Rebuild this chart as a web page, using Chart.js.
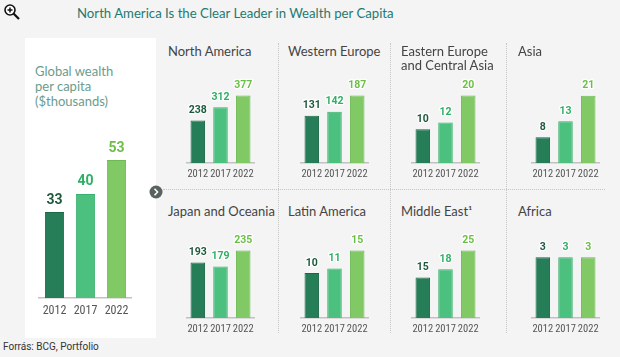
<!DOCTYPE html>
<html>
<head>
<meta charset="utf-8">
<script src="https://cdn.jsdelivr.net/npm/chart.js@4/dist/chart.umd.min.js"></script>
<style>
  html, body { margin:0; padding:0; }
  body { width:620px; height:357px; background:#f4f4f4; position:relative; overflow:hidden; font-family: Lato, "Open Sans", sans-serif; }
  .abs { position:absolute; }
  .title { left:77px; top:4px; font-size:13.2px; line-height:18px; color:#1f7a70; white-space:nowrap; }
  .panelTitle { font-size:13px; line-height:14px; color:#444; white-space:nowrap; }
  .white { left:25px; top:38px; width:131px; height:300px; background:#fff; }
  .gtitle { left:35px; top:64px; font-size:13px; line-height:15px; color:#6a9c8e; }
  .vdot { width:0; border-left:1px dotted #c6c6c6; }
  .hdot { height:0; border-top:1px dotted #c6c6c6; }
  .foot { left:3px; top:340px; font-size:10px; line-height:14px; color:#333; font-family: Roboto, "Liberation Sans", sans-serif; }
  canvas { position:absolute; }
</style>
</head>
<body>
<script>
// ---------- data ----------
const years = ['2012', '2017', '2022'];
const chartTitle = 'North America Is the Clear Leader in Wealth per Capita';
const globalLabel = ['Global wealth', 'per capita', '($thousands)'];
const globalValues = [33, 40, 53];
const regionNames = ['North America', 'Western Europe', 'Eastern Europe\nand Central Asia', 'Asia',
                     'Japan and Oceania', 'Latin America', 'Middle East¹', 'Africa'];
const northAmerica   = [238, 312, 377];
const westernEurope  = [131, 142, 187];
const easternEurope  = [10, 12, 20];
const asia           = [8, 13, 21];
const japanOceania   = [193, 179, 235];
const latinAmerica   = [10, 11, 15];
const middleEast     = [15, 18, 25];
const africa         = [3, 3, 3];
const regionValues = [northAmerica, westernEurope, easternEurope, asia,
                      japanOceania, latinAmerica, middleEast, africa];
// per-panel value axis maxima (each panel has its own scale)
const regionAxisMax = [520, 258, 27.6, 29, 324, 20.7, 34.4, 4.6];
const globalAxisMax = 60.7;
const sourceNote = 'Forrás: BCG, Portfolio';
</script>

<div class="abs" style="left:3px;top:3px;">
  <svg width="18" height="18" viewBox="0 0 18 18">
    <circle cx="7" cy="7" r="5" fill="#fff" stroke="#111" stroke-width="1.6"/>
    <line x1="4.5" y1="7" x2="9.5" y2="7" stroke="#111" stroke-width="1.5"/>
    <line x1="7" y1="4.5" x2="7" y2="9.5" stroke="#111" stroke-width="1.5"/>
    <line x1="10.5" y1="10.5" x2="16" y2="16" stroke="#111" stroke-width="2.2"/>
  </svg>
</div>
<div class="abs title" id="title"></div>
<div class="abs white"></div>
<div class="abs gtitle" id="gtitle"></div>

<div class="abs vdot" style="left:278px;top:43px;height:290px;"></div>
<div class="abs vdot" style="left:390px;top:43px;height:290px;"></div>
<div class="abs vdot" style="left:506px;top:43px;height:290px;"></div>
<div class="abs hdot" style="left:163px;top:189px;width:442px;"></div>

<div class="abs" style="left:149px;top:183px;">
  <svg width="14" height="14" viewBox="0 0 14 14">
    <circle cx="7" cy="7" r="6.5" fill="#5a6161"/>
    <polyline points="5.5,3.8 8.6,7 5.5,10.2" fill="none" stroke="#fff" stroke-width="1.5"/>
  </svg>
</div>

<div class="abs foot" id="foot"></div>

<script>
document.getElementById('title').textContent = chartTitle;
document.getElementById('gtitle').innerHTML = globalLabel.join('<br>');
document.getElementById('foot').textContent = sourceNote;

const fills   = ['#267e59', '#4cc17f', '#80c964'];
const borders = ['#1a6844', '#3bb06e', '#6db955'];
const labelColors = ['#1c5a3c', '#2fb064', '#6cbf45'];

const valueLabels = {
  id: 'valueLabels',
  afterDatasetsDraw(chart, args, opts) {
    const ctx = chart.ctx;
    const meta = chart.getDatasetMeta(0);
    const vals = chart.data.datasets[0].data;
    ctx.save();
    ctx.font = opts.font;
    ctx.textAlign = 'center';
    ctx.textBaseline = 'middle';
    ctx.lineJoin = 'round';
    meta.data.forEach((bar, i) => {
      const y = bar.y - opts.offset;
      ctx.strokeStyle = '#ffffff';
      ctx.lineWidth = 2.5;
      ctx.strokeText(String(vals[i]), bar.x, y);
      ctx.fillStyle = labelColors[i];
      ctx.fillText(String(vals[i]), bar.x, y);
    });
    ctx.restore();
  }
};

function makeChart(left, top, width, height, values, axisMax, cfg) {
  const c = document.createElement('canvas');
  c.width = width; c.height = height;
  c.style.left = left + 'px'; c.style.top = top + 'px';
  c.style.width = width + 'px'; c.style.height = height + 'px';
  document.body.appendChild(c);
  new Chart(c, {
    type: 'bar',
    data: {
      labels: years,
      datasets: [{
        data: values,
        backgroundColor: fills,
        borderColor: borders,
        borderWidth: 1,
        borderSkipped: 'start',
        barPercentage: cfg.barPct,
        categoryPercentage: 1
      }]
    },
    options: {
      responsive: false,
      animation: false,
      devicePixelRatio: 1,
      layout: { padding: 0 },
      plugins: {
        legend: { display: false },
        tooltip: { enabled: false },
        valueLabels: { font: cfg.labelFont, offset: cfg.labelOffset }
      },
      scales: {
        x: {
          grid: { display: false, drawTicks: false },
          border: { display: true, color: '#c2c2c2', width: 1.5 },
          ticks: { color: '#555', font: cfg.tickFont, padding: cfg.tickPad, maxRotation: 0, autoSkip: false },
          afterFit(s) { s.height = cfg.axisH; }
        },
        y: { display: false, min: 0, max: axisMax }
      }
    },
    plugins: [valueLabels]
  });
}

const tickFamily = '"Liberation Sans Narrow", "Roboto Condensed", "DejaVu Sans Condensed", Roboto, sans-serif';

// global panel
makeChart(37, 140, 97, 178, globalValues, globalAxisMax, {
  barPct: 0.62, labelFont: 'bold 14px Roboto, "Liberation Sans", sans-serif', labelOffset: 12,
  tickFont: { family: tickFamily, size: 12 }, tickPad: 6, axisH: 20
});

// region panels
const colLeft = [183, 297, 408, 528];
const titleLeft = [168, 288, 401, 518];
const rowBaseline = [163, 318];
const titleTop = [44, 204];
regionValues.forEach((vals, i) => {
  const col = i % 4, row = Math.floor(i / 4);
  makeChart(colLeft[col], rowBaseline[row] - 93, 75, 113, vals, regionAxisMax[i], {
    barPct: 0.64, labelFont: 'bold 10.5px Roboto, "Liberation Sans", sans-serif', labelOffset: 10,
    tickFont: { family: tickFamily, size: 10.5 }, tickPad: 5, axisH: 20
  });
  const t = document.createElement('div');
  t.className = 'abs panelTitle';
  t.style.left = titleLeft[col] + 'px';
  t.style.top = titleTop[row] + 'px';
  t.innerHTML = regionNames[i].replace('\n', '<br>');
  document.body.appendChild(t);
});
</script>
</body>
</html>
